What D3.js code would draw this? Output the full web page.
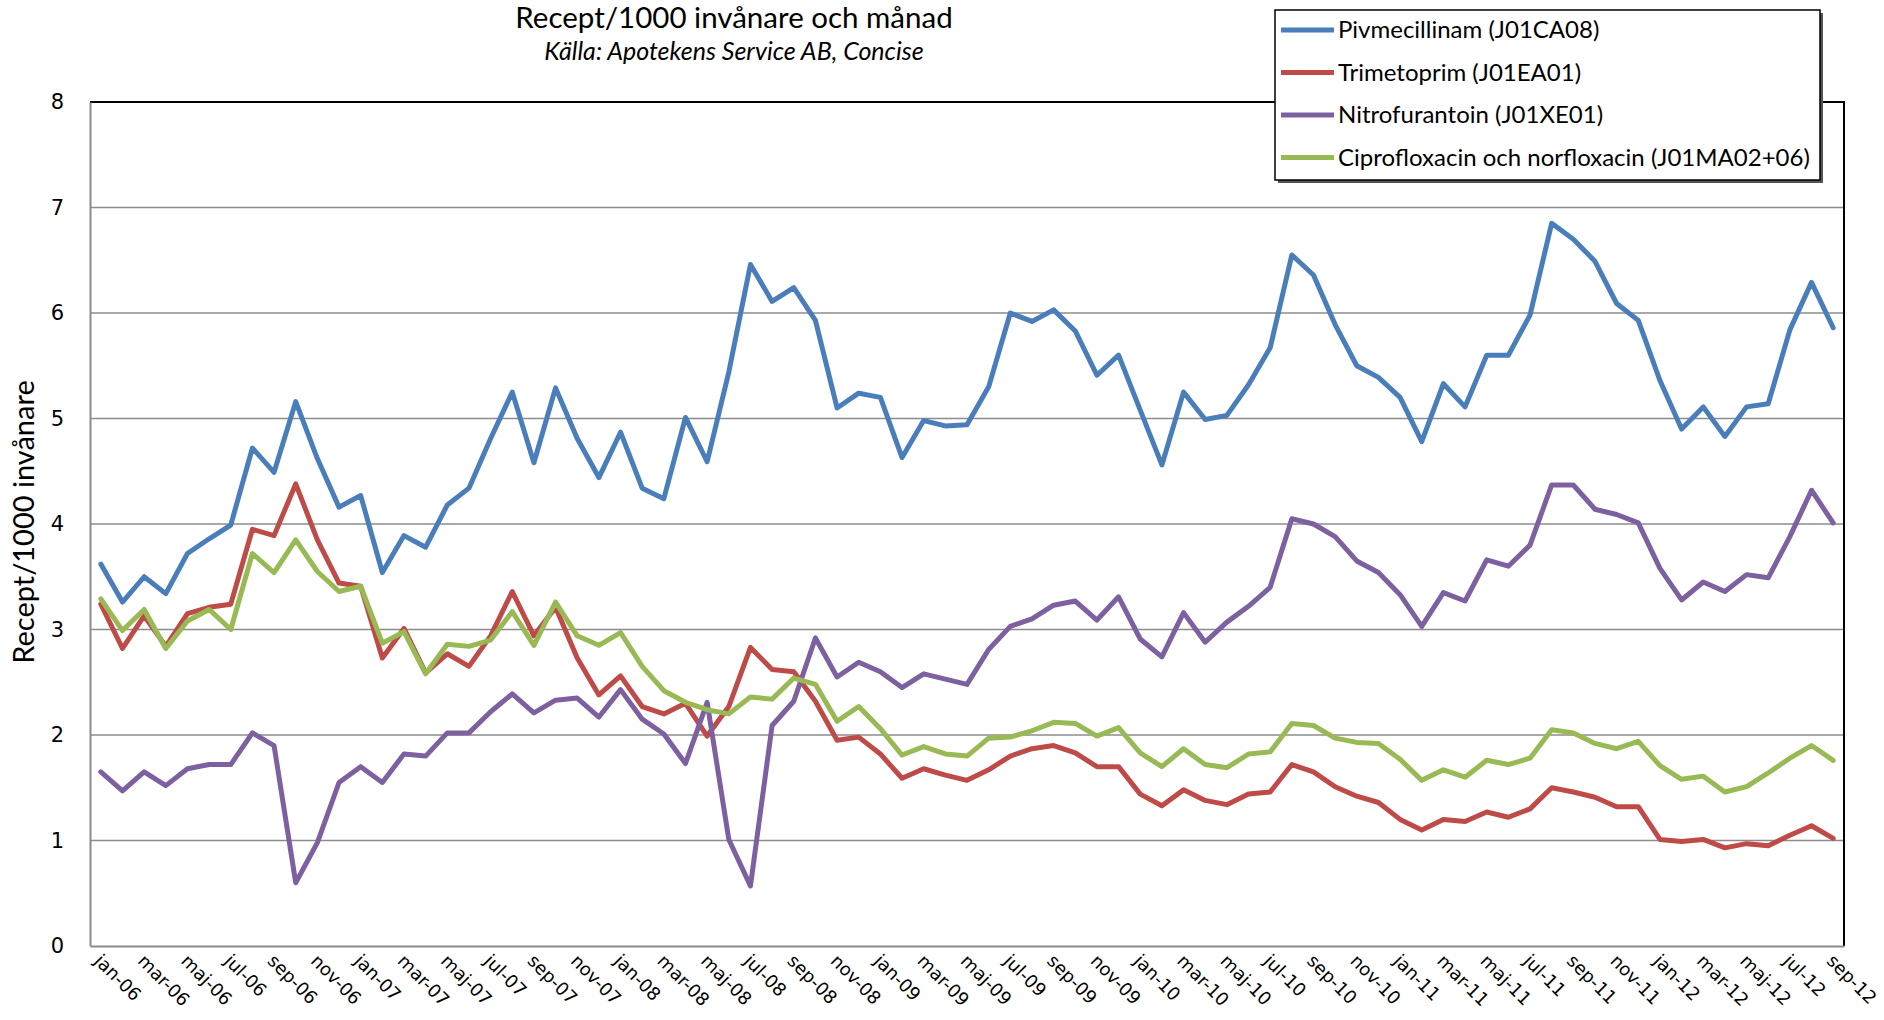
<!DOCTYPE html>
<html>
<head>
<meta charset="utf-8">
<script src="https://cdn.jsdelivr.net/npm/d3@7/dist/d3.min.js"></script>
<style>
  body { margin: 0; background: #ffffff; }
</style>
</head>
<body>
<div id="vis"></div>
<script>
// Månader jan-06 .. sep-12
const MANADER = [
  "jan-06","feb-06","mar-06","apr-06","maj-06","jun-06","jul-06","aug-06","sep-06","okt-06","nov-06","dec-06",
  "jan-07","feb-07","mar-07","apr-07","maj-07","jun-07","jul-07","aug-07","sep-07","okt-07","nov-07","dec-07",
  "jan-08","feb-08","mar-08","apr-08","maj-08","jun-08","jul-08","aug-08","sep-08","okt-08","nov-08","dec-08",
  "jan-09","feb-09","mar-09","apr-09","maj-09","jun-09","jul-09","aug-09","sep-09","okt-09","nov-09","dec-09",
  "jan-10","feb-10","mar-10","apr-10","maj-10","jun-10","jul-10","aug-10","sep-10","okt-10","nov-10","dec-10",
  "jan-11","feb-11","mar-11","apr-11","maj-11","jun-11","jul-11","aug-11","sep-11","okt-11","nov-11","dec-11",
  "jan-12","feb-12","mar-12","apr-12","maj-12","jun-12","jul-12","aug-12","sep-12"
];

const PIVMECILLINAM = [
  3.62, 3.26, 3.50, 3.34, 3.72, 3.86, 3.99, 4.72, 4.49, 5.16, 4.62, 4.16, 4.27, 3.54,
  3.89, 3.78, 4.18, 4.34, 4.81, 5.25, 4.58, 5.29, 4.81, 4.44, 4.87, 4.34, 4.24, 5.01,
  4.59, 5.44, 6.46, 6.11, 6.24, 5.93, 5.10, 5.24, 5.20, 4.63, 4.98, 4.93, 4.94, 5.30,
  6.00, 5.92, 6.03, 5.83, 5.41, 5.60, 5.08, 4.56, 5.25, 4.99, 5.03, 5.32, 5.67, 6.55,
  6.36, 5.89, 5.50, 5.39, 5.20, 4.78, 5.33, 5.11, 5.60, 5.60, 5.98, 6.85, 6.70, 6.49,
  6.09, 5.93, 5.36, 4.90, 5.11, 4.83, 5.11, 5.14, 5.84, 6.29, 5.86
];

const TRIMETOPRIM = [
  3.24, 2.82, 3.13, 2.84, 3.15, 3.21, 3.24, 3.95, 3.89, 4.38, 3.85, 3.44, 3.41, 2.73,
  3.01, 2.59, 2.77, 2.65, 2.94, 3.36, 2.94, 3.21, 2.73, 2.38, 2.56, 2.27, 2.20, 2.30,
  1.99, 2.27, 2.83, 2.62, 2.60, 2.32, 1.95, 1.98, 1.82, 1.59, 1.68, 1.62, 1.57, 1.67,
  1.80, 1.87, 1.90, 1.83, 1.70, 1.70, 1.44, 1.33, 1.48, 1.38, 1.34, 1.44, 1.46, 1.72,
  1.65, 1.51, 1.42, 1.36, 1.20, 1.10, 1.20, 1.18, 1.27, 1.22, 1.30, 1.50, 1.46, 1.41,
  1.32, 1.32, 1.01, 0.99, 1.01, 0.93, 0.97, 0.95, 1.05, 1.14, 1.02
];

const NITROFURANTOIN = [
  1.65, 1.47, 1.65, 1.52, 1.68, 1.72, 1.72, 2.02, 1.90, 0.60, 0.98, 1.55, 1.70, 1.55,
  1.82, 1.80, 2.02, 2.02, 2.22, 2.39, 2.21, 2.33, 2.35, 2.17, 2.43, 2.15, 2.01, 1.73,
  2.31, 1.01, 0.57, 2.09, 2.32, 2.92, 2.55, 2.69, 2.60, 2.45, 2.58, 2.53, 2.48, 2.81,
  3.03, 3.10, 3.23, 3.27, 3.09, 3.31, 2.91, 2.74, 3.16, 2.88, 3.07, 3.22, 3.40, 4.05,
  4.00, 3.88, 3.65, 3.54, 3.33, 3.03, 3.35, 3.27, 3.66, 3.60, 3.80, 4.37, 4.37, 4.14,
  4.09, 4.01, 3.58, 3.28, 3.45, 3.36, 3.52, 3.49, 3.88, 4.32, 4.01
];

const CIPRO_NORFLOXACIN = [
  3.29, 2.99, 3.19, 2.82, 3.08, 3.19, 3.00, 3.72, 3.54, 3.85, 3.55, 3.36, 3.41, 2.87,
  2.98, 2.58, 2.86, 2.84, 2.90, 3.17, 2.85, 3.26, 2.94, 2.85, 2.97, 2.65, 2.42, 2.31,
  2.24, 2.20, 2.36, 2.34, 2.54, 2.48, 2.13, 2.27, 2.06, 1.81, 1.89, 1.82, 1.80, 1.97,
  1.98, 2.04, 2.12, 2.11, 1.99, 2.07, 1.83, 1.70, 1.87, 1.72, 1.69, 1.82, 1.84, 2.11,
  2.09, 1.97, 1.93, 1.92, 1.77, 1.57, 1.67, 1.60, 1.76, 1.72, 1.78, 2.05, 2.02, 1.92,
  1.87, 1.94, 1.71, 1.58, 1.61, 1.46, 1.51, 1.64, 1.78, 1.90, 1.76
];

const SERIE_NAMN = [
  "Pivmecillinam (J01CA08)",
  "Trimetoprim (J01EA01)",
  "Nitrofurantoin (J01XE01)",
  "Ciprofloxacin och norfloxacin (J01MA02+06)"
];
const SERIE_VARDEN = [PIVMECILLINAM, TRIMETOPRIM, NITROFURANTOIN, CIPRO_NORFLOXACIN];
const Y_TICKS = [0, 1, 2, 3, 4, 5, 6, 7, 8];
const X_TICKS = MANADER.filter((d, i) => i % 2 === 0);

const TITEL = "Recept/1000 invånare och månad";
const UNDERTITEL = "Källa: Apotekens Service AB, Concise";
const Y_TITEL = "Recept/1000 invånare";

const WIDTH = 1884;
const HEIGHT = 1020;
const MARGIN = { top: 102, bottom: 74, left: 90, right: 40 };
const INNER_W = WIDTH - MARGIN.left - MARGIN.right;
const INNER_H = HEIGHT - MARGIN.top - MARGIN.bottom;

const FARGER = ["#4a7ebb", "#be4b48", "#7d60a0", "#98b954"];
const TEXT_FONT = "Lato, 'Open Sans', sans-serif";
const AXIS_FONT = "'DejaVu Sans', Verdana, sans-serif";

const SVG = d3.select("#vis").append("svg")
  .attr("width", WIDTH)
  .attr("height", HEIGHT);

const escalaX = d3.scalePoint()
  .domain(MANADER)
  .range([0, INNER_W])
  .padding(0.5);

const escalaY = d3.scaleLinear()
  .domain([0, 8])
  .range([INNER_H, 0]);

const plot = SVG.append("g")
  .attr("transform", `translate(${MARGIN.left} ${MARGIN.top})`);

// gridlines
plot.append("g")
  .selectAll("line")
  .data(Y_TICKS.filter(d => d > 0))
  .join("line")
  .attr("x1", 0)
  .attr("x2", INNER_W)
  .attr("y1", d => escalaY(d))
  .attr("y2", d => escalaY(d))
  .attr("stroke", "#8c8c8c")
  .attr("stroke-width", 1.5);

// ram upptill och till höger
plot.append("path")
  .attr("d", `M0,0H${INNER_W}V${INNER_H}`)
  .attr("fill", "none")
  .attr("stroke", "#000")
  .attr("stroke-width", 2);

// y-axel
const ejeY = d3.axisLeft(escalaY).tickValues(Y_TICKS).tickSize(0).tickPadding(26);
const gY = plot.append("g").call(ejeY);
gY.select(".domain").attr("stroke", "#8c8c8c").attr("stroke-width", 2);
gY.selectAll("text")
  .attr("font-family", AXIS_FONT)
  .attr("font-size", 21)
  .attr("fill", "#000");

// x-axel
const ejeX = d3.axisBottom(escalaX).tickValues(X_TICKS).tickSize(0).tickPadding(0);
const gX = plot.append("g")
  .attr("transform", `translate(0 ${INNER_H})`)
  .call(ejeX);
gX.select(".domain").attr("stroke", "#8c8c8c").attr("stroke-width", 2);
gX.selectAll("text")
  .attr("font-family", AXIS_FONT)
  .attr("font-size", 18)
  .attr("fill", "#000")
  .attr("text-anchor", "start")
  .attr("dy", null)
  .attr("y", 0)
  .attr("transform", "translate(-8 16) rotate(45)");

// linjer
const linea = d3.line()
  .x((d, i) => escalaX(MANADER[i]))
  .y(d => escalaY(d));

plot.append("g")
  .selectAll("path")
  .data(SERIE_VARDEN)
  .join("path")
  .attr("d", d => linea(d))
  .attr("fill", "none")
  .attr("stroke", (d, i) => FARGER[i])
  .attr("stroke-width", 5)
  .attr("stroke-linejoin", "round")
  .attr("stroke-linecap", "round");

// titlar
SVG.append("text")
  .attr("x", 734)
  .attr("y", 28)
  .attr("text-anchor", "middle")
  .attr("font-family", TEXT_FONT)
  .attr("font-size", 29.5)
  .text(TITEL);

SVG.append("text")
  .attr("x", 734)
  .attr("y", 60)
  .attr("text-anchor", "middle")
  .attr("font-family", TEXT_FONT)
  .attr("font-style", "italic")
  .attr("font-size", 25)
  .text(UNDERTITEL);

SVG.append("text")
  .attr("transform", `translate(34 ${MARGIN.top + INNER_H / 2 - 2}) rotate(-90)`)
  .attr("text-anchor", "middle")
  .attr("font-family", TEXT_FONT)
  .attr("font-size", 29)
  .text(Y_TITEL);

// legend
const LEG = { x: 1275, y: 10, w: 545, h: 170 };
const legend = SVG.append("g");
legend.append("rect")
  .attr("x", LEG.x + 3)
  .attr("y", LEG.y + 3)
  .attr("width", LEG.w)
  .attr("height", LEG.h)
  .attr("fill", "#555");
legend.append("rect")
  .attr("x", LEG.x)
  .attr("y", LEG.y)
  .attr("width", LEG.w)
  .attr("height", LEG.h)
  .attr("fill", "#fff")
  .attr("stroke", "#000")
  .attr("stroke-width", 1.5);

const item = legend.selectAll(".item")
  .data(SERIE_NAMN)
  .join("g")
  .attr("class", "item")
  .attr("transform", (d, i) => `translate(${LEG.x} ${LEG.y + 20 + i * 42.5})`);

item.append("line")
  .attr("x1", 6)
  .attr("x2", 59)
  .attr("stroke", (d, i) => FARGER[i])
  .attr("stroke-width", 5);

item.append("text")
  .attr("x", 63)
  .attr("dy", "0.35em")
  .attr("font-family", TEXT_FONT)
  .attr("font-size", 24)
  .text(d => d);
</script>
</body>
</html>
